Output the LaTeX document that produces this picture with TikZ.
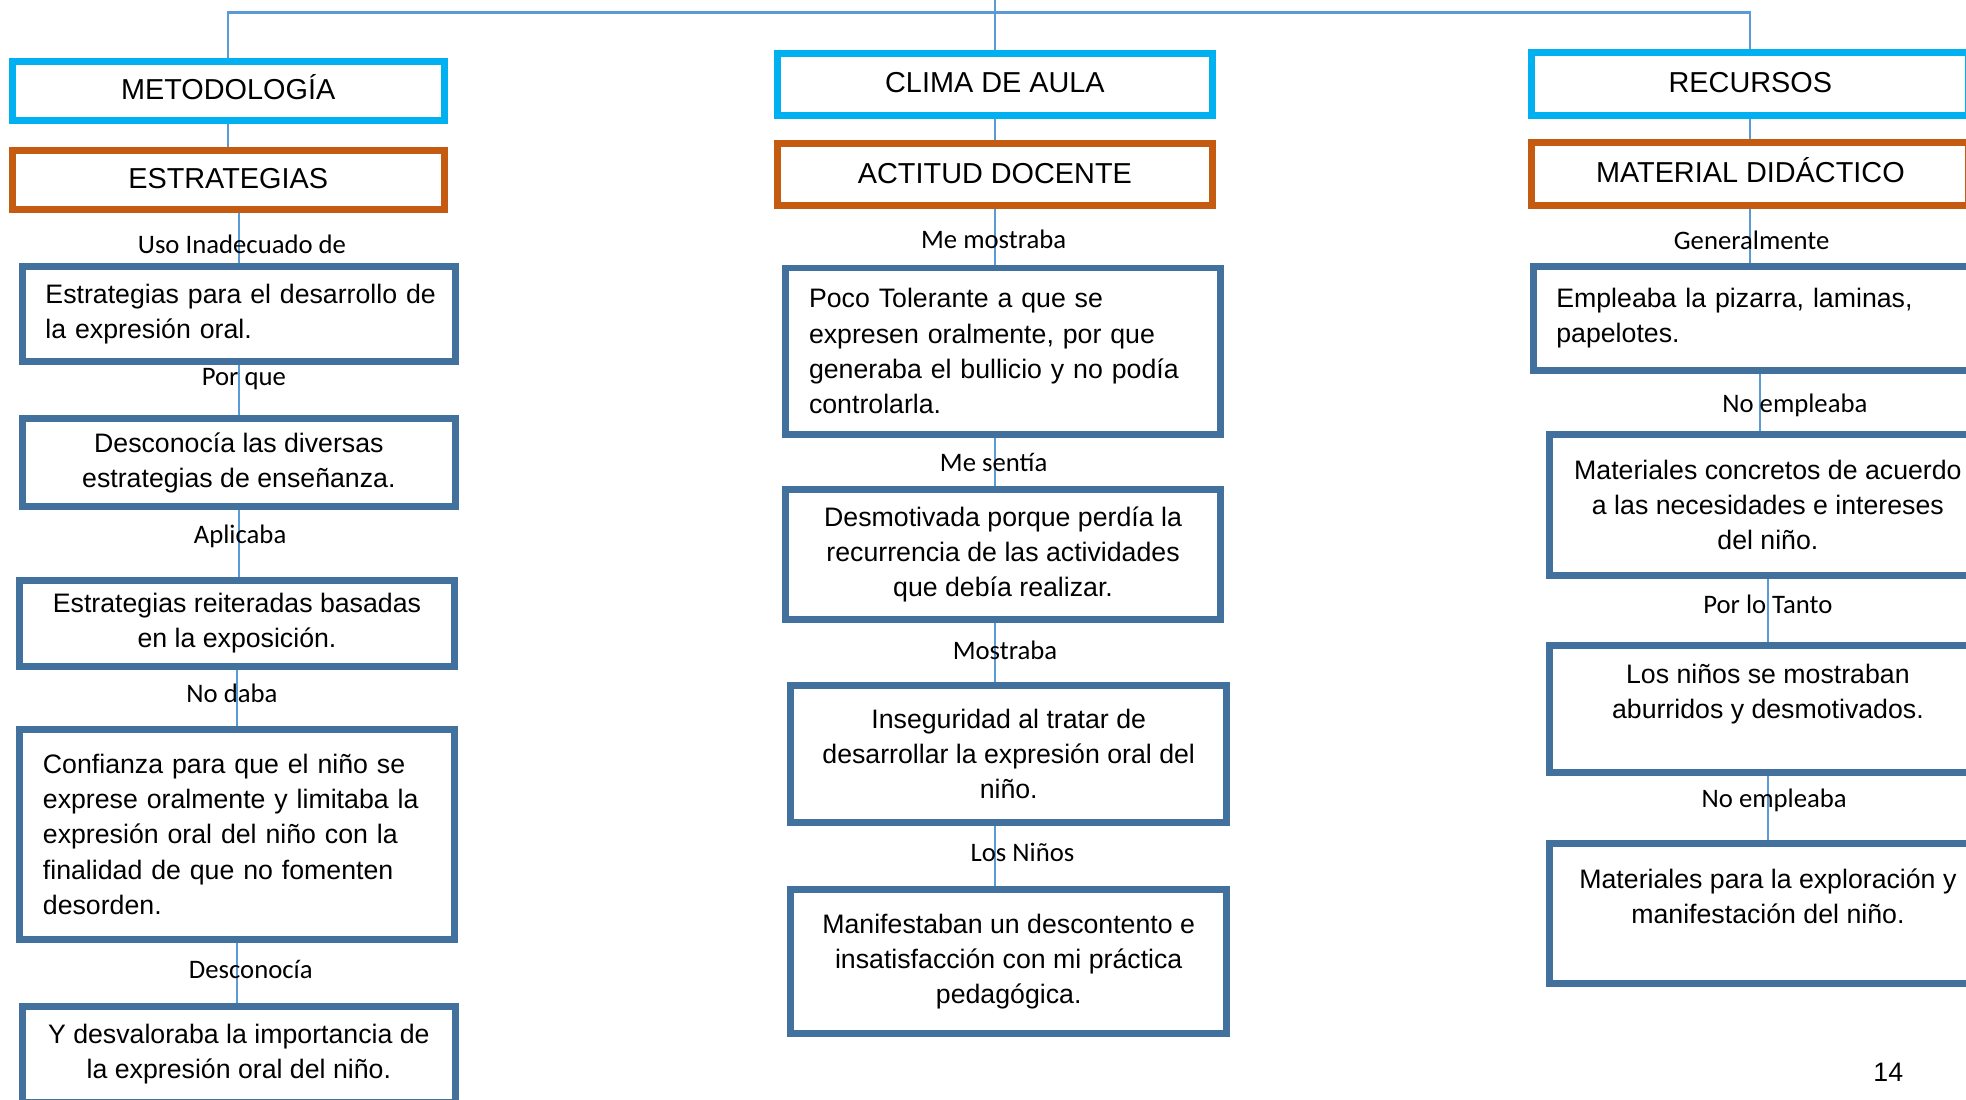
\documentclass[tikz,border=0pt]{standalone}
\usepackage{fontspec}
\setmainfont{Liberation Sans}
\newfontfamily\lblfont{Carlito}
\definecolor{cian}{HTML}{00B0F0}
\definecolor{naranja}{HTML}{C55A11}
\definecolor{azulcaja}{HTML}{41719C}
\definecolor{azullinea}{HTML}{5B9BD5}

\begin{document}
\begin{tikzpicture}
[x=1pt,y=-1pt,%
  titulo/.style={draw=cian,line width=5.5pt,minimum height=47.5pt,text height=17pt,text depth=4pt,font=\fontsize{23}{28}\selectfont},%
  subtitulo/.style={titulo,draw=naranja},%
  caja/.style={draw=azulcaja,line width=5.5pt,align=center,font=\fontsize{21.3}{28}\selectfont},%
  cajaizq/.style={caja,align=left,inner xsep=18.5pt},%
  conector/.style={draw=azullinea,line width=1.8pt},%
  etiqueta/.style={midway,font=\lblfont\fontsize{21.3}{26}\selectfont}]
\useasboundingbox (0,0) rectangle (1568,877);
\node[titulo,minimum width=344.5pt] (met) at (182,72.5) {METODOLOGÍA};
\node[subtitulo,minimum width=344.5pt] (est) at (182,143.5) {ESTRATEGIAS};
\node[cajaizq,text width=308.5pt,minimum height=75.5pt] (e1) at (190.5,250.5)
  {\mbox{Estrategias para el desarrollo de}\\la expresión oral.};
\node[caja,minimum width=345.5pt,minimum height=70.5pt] (e2) at (190.5,369)
  {Desconocía las diversas\\estrategias de enseñanza.};
\node[caja,minimum width=346.5pt,minimum height=68.5pt] (e3) at (189,497)
  {Estrategias reiteradas basadas\\en la exposición.};
\node[cajaizq,text width=309.5pt,minimum height=167.5pt] (e4) at (189,665.5)
  {Confianza para que el niño se\\exprese oralmente y limitaba la\\expresión oral del niño con la\\finalidad de que no fomenten\\desorden.};
\node[caja,minimum width=345.5pt,minimum height=76.5pt] (e5) at (190.5,841)
  {Y desvaloraba la importancia de\\la expresión oral del niño.};
\node[titulo,minimum width=347.5pt,minimum height=49.5pt] (cli) at (793.5,67.5) {CLIMA DE AULA};
\node[subtitulo,minimum width=347.5pt,minimum height=49.5pt] (act) at (793.5,139.5) {ACTITUD DOCENTE};
\node[cajaizq,text width=309.5pt,minimum height=132.5pt] (c1) at (800,280)
  {Poco Tolerante a que se\\expresen oralmente, por que\\generaba el bullicio y no podía\\controlarla.};
\node[caja,minimum width=346.5pt,minimum height=103.5pt] (c2) at (800,442.5)
  {Desmotivada porque perdía la\\recurrencia de las actividades\\que debía realizar.};
\node[caja,minimum width=347.5pt,minimum height=109.5pt] (c3) at (804.5,601.5)
  {Inseguridad al tratar de\\desarrollar la expresión oral del\\niño.};
\node[caja,minimum width=347.5pt,minimum height=114.5pt] (c4) at (804.5,767)
  {Manifestaban un descontento e\\insatisfacción con mi práctica\\pedagógica.};
\node[titulo,minimum width=348.5pt,minimum height=50.5pt] (rec) at (1396,67) {RECURSOS};
\node[subtitulo,minimum width=348.5pt,minimum height=50.5pt] (mat) at (1396,139) {MATERIAL DIDÁCTICO};
\node[cajaizq,text width=324.5pt,minimum height=82.5pt] (r1) at (1403.5,254)
  {Empleaba la pizarra, laminas,\\papelotes.};
\node[caja,minimum width=348.5pt,minimum height=112.5pt] (r2) at (1410,403)
  {Materiales concretos de acuerdo\\a las necesidades e intereses\\del niño.};
\node[caja,minimum width=348.5pt,minimum height=101.5pt] (r3) at (1410,565.5)
  {Los niños se mostraban\\aburridos y desmotivados.\\\mbox{}};
\node[caja,minimum width=348.5pt,minimum height=111.5pt] (r4) at (1410,728.5)
  {Materiales para la exploración y\\manifestación del niño.\\\mbox{}};
\node[font=\fontsize{21.3}{26}\selectfont] (pag) at (1506,855) {14};
\coordinate (barra) at (793.5,10);
\draw[conector] (cli.north) -- (cli.north |- 0,0);
\draw[conector] (met.north) |- (barra) -| (rec.north);
\draw[conector] (met.south) -- (est.north);
\draw[conector] (cli.south) -- (act.north);
\draw[conector] (rec.south) -- (mat.north);
\draw[conector] (e1.north |- est.south) -- (e1.north)
  node[etiqueta,xshift=2.5pt,yshift=-5pt] {Uso Inadecuado de};
\draw[conector] (e1.south) -- (e1.south |- e2.north)
  node[etiqueta,xshift=4pt,yshift=9pt] {Por que};
\draw[conector] (e2.south) -- (e2.south |- e3.north)
  node[etiqueta,xshift=1pt,yshift=5.5pt] {Aplicaba};
\draw[conector] (e3.south) -- (e3.south |- e4.north)
  node[etiqueta,xshift=-4pt,yshift=3.5pt] {No daba};
\draw[conector] (e4.south) -- (e4.south |- e5.north)
  node[etiqueta,xshift=11pt,yshift=3pt] {Desconocía};
\draw[conector] (act.south) -- (act.south |- c1.north)
  node[etiqueta,xshift=-1pt,yshift=-2pt] {Me mostraba};
\draw[conector] (c1.south -| act) -- (c2.north -| act)
  node[etiqueta,xshift=-1pt] {Me sentía};
\draw[conector] (c2.south -| act) -- (c3.north -| act)
  node[etiqueta,xshift=8pt,yshift=1.5pt] {Mostraba};
\draw[conector] (c3.south -| act) -- (c4.north -| act)
  node[etiqueta,xshift=22pt,yshift=3pt] {Los Niños};
\draw[conector] (mat.south) -- (mat.south |- r1.north)
  node[etiqueta,xshift=1pt,yshift=-3.5pt] {Generalmente};
\draw[conector] (r1.south) -- (r1.south |- r2.north)
  node[etiqueta,xshift=28pt,yshift=-2pt] {No empleaba};
\draw[conector] (r2.south) -- (r2.south |- r3.north)
  node[etiqueta,xshift=0pt,yshift=5pt] {Por lo Tanto};
\draw[conector] (r3.south) -- (r3.south |- r4.north)
  node[etiqueta,xshift=5pt,yshift=6.5pt] {No empleaba};
\end{tikzpicture}
\end{document}
